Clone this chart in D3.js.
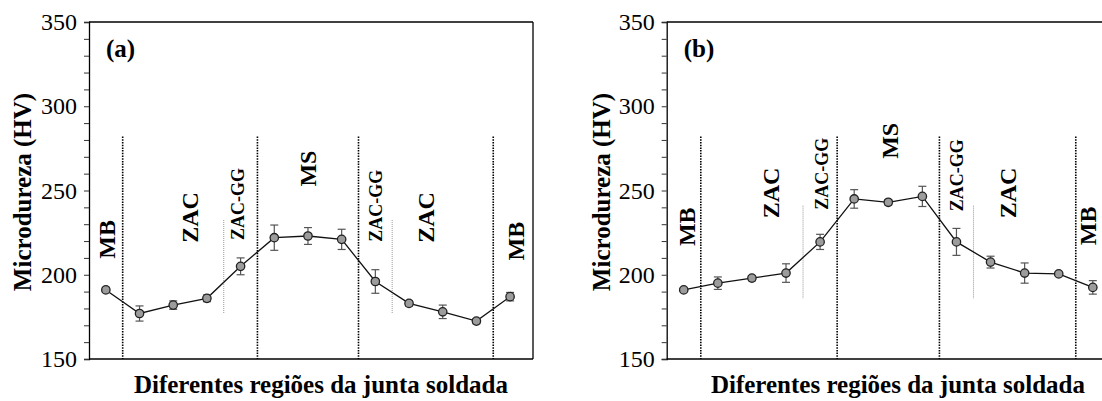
<!DOCTYPE html>
<html>
<head>
    <title>Microdureza</title>
    <script src="https://d3js.org/d3.v7.min.js"></script>
    <style>
        body { margin: 0; background: #fff; }
    </style>
</head>
<body>
    <div id="chart"></div>

    <script>
        // Posicoes de medida ao longo da junta (13 pontos)
        var positions = [1, 2, 3, 4, 5, 6, 7, 8, 9, 10, 11, 12, 13];

        // Painel (a)
        var hvA = [191, 177, 182, 186, 205, 222, 223, 221, 196, 183, 178, 172.5, 187];
        var errA = [1.5, 4.5, 2.5, 2, 5, 7.5, 5, 6, 7, 1.5, 4, 1.5, 2.5];

        // Painel (b)
        var hvB = [191, 195, 198, 201, 219.5, 245, 243, 246.5, 219.5, 207.5, 201, 200.5, 192.5];
        var errB = [1, 3.7, 1.5, 5.5, 4.5, 5.5, 1.5, 6, 8, 3.5, 6, 1, 4];

        var yTicks = [150, 200, 250, 300, 350];

        // limites das regioes
        var dividers = [1.5, 5.5, 8.5, 12.5];
        var subDividers = [4.5, 9.5];
        var dividerTop = 282;
        var subRangeA = [177, 232.5];
        var subRangeB = [186, 241];

        var zoneNames = ['MB', 'ZAC', 'ZAC-GG', 'MS', 'ZAC-GG', 'ZAC', 'MB'];
        var zoneXA = [1.03, 3.5, 4.92, 7.0, 9.02, 10.5, 13.18];
        var zoneYA = [221, 234, 242, 263, 241, 234, 220];
        var zoneXB = [1.1, 3.56, 5.06, 7.05, 9.02, 10.52, 12.86];
        var zoneYB = [228.5, 248.5, 260, 279.5, 259, 248.5, 229];

        var serif = '"Liberation Serif", "Times New Roman", Times, serif';

        var svg = d3.select('#chart')
            .append('svg')
            .attr('width', 1102)
            .attr('height', 401);

        function drawPanel(opts) {
            var x = d3.scaleLinear()
                .domain([0.5, 13.68])
                .range([opts.left, opts.right]);
            var y = d3.scaleLinear()
                .domain([150, 350])
                .range([359, 22]);

            var g = svg.append('g').style('font-family', serif);

            // frame
            g.append('line')
                .attr('x1', x.range()[0]).attr('x2', x.range()[1])
                .attr('y1', y(350)).attr('y2', y(350))
                .attr('stroke', '#000').attr('stroke-width', 1.3);
            g.append('line')
                .attr('x1', x.range()[0]).attr('x2', x.range()[1])
                .attr('y1', y(150)).attr('y2', y(150))
                .attr('stroke', '#000').attr('stroke-width', 1.3);
            g.append('line')
                .attr('x1', x.range()[1]).attr('x2', x.range()[1])
                .attr('y1', y(350)).attr('y2', y(150))
                .attr('stroke', '#000').attr('stroke-width', 1.3);

            // y axis
            var yAxis = d3.axisLeft(y)
                .tickValues(d3.range(150, 351, 10))
                .tickSize(5)
                .tickPadding(7)
                .tickFormat(function(d) { return yTicks.indexOf(d) >= 0 ? d : ''; });
            var ya = g.append('g')
                .attr('transform', 'translate(' + opts.left + ',0)')
                .call(yAxis)
                .attr('font-family', null)
                .attr('font-size', 24);
            ya.select('.domain').attr('stroke', '#000').attr('stroke-width', 1.3);
            ya.selectAll('.tick line').attr('stroke', '#333');
            ya.selectAll('.tick text')
                .attr('fill', '#000');

            // region dividers
            g.selectAll('.div')
                .data(dividers)
                .enter()
                .append('line')
                .attr('x1', function(d) { return x(d); })
                .attr('x2', function(d) { return x(d); })
                .attr('y1', y(dividerTop))
                .attr('y2', y(150))
                .attr('stroke', '#000')
                .attr('stroke-width', 1.6)
                .attr('stroke-dasharray', '1.5,1.2');

            g.selectAll('.subdiv')
                .data(subDividers)
                .enter()
                .append('line')
                .attr('x1', function(d) { return x(d); })
                .attr('x2', function(d) { return x(d); })
                .attr('y1', y(opts.subRange[1]))
                .attr('y2', y(opts.subRange[0]))
                .attr('stroke', '#999')
                .attr('stroke-width', 1)
                .attr('stroke-dasharray', '1,1');

            // zone labels
            g.selectAll('.zone')
                .data(zoneNames)
                .enter()
                .append('text')
                .attr('transform', function(d, i) {
                    return 'translate(' + x(opts.zoneX[i]) + ',' + y(opts.zoneY[i]) + ') rotate(-90)';
                })
                .attr('text-anchor', 'middle')
                .attr('dominant-baseline', 'central')
                .attr('font-weight', 'bold')
                .attr('font-size', function(d) { return d === 'ZAC-GG' ? 18 : 24; })
                .text(function(d) { return d; });

            // series line
            var line = d3.line()
                .x(function(d, i) { return x(positions[i]); })
                .y(function(d) { return y(d); });
            g.append('path')
                .datum(opts.values)
                .attr('fill', 'none')
                .attr('stroke', '#111')
                .attr('stroke-width', 1.3)
                .attr('d', line);

            // error bars
            var eb = g.selectAll('.err')
                .data(opts.values)
                .enter()
                .append('g')
                .attr('stroke', '#555')
                .attr('stroke-width', 1.2);
            eb.append('line')
                .attr('x1', function(d, i) { return x(positions[i]); })
                .attr('x2', function(d, i) { return x(positions[i]); })
                .attr('y1', function(d, i) { return y(d + opts.errors[i]); })
                .attr('y2', function(d, i) { return y(d - opts.errors[i]); });
            eb.append('line')
                .attr('x1', function(d, i) { return x(positions[i]) - 4; })
                .attr('x2', function(d, i) { return x(positions[i]) + 4; })
                .attr('y1', function(d, i) { return y(d + opts.errors[i]); })
                .attr('y2', function(d, i) { return y(d + opts.errors[i]); });
            eb.append('line')
                .attr('x1', function(d, i) { return x(positions[i]) - 4; })
                .attr('x2', function(d, i) { return x(positions[i]) + 4; })
                .attr('y1', function(d, i) { return y(d - opts.errors[i]); })
                .attr('y2', function(d, i) { return y(d - opts.errors[i]); });

            // markers
            g.selectAll('.pt')
                .data(opts.values)
                .enter()
                .append('circle')
                .attr('cx', function(d, i) { return x(positions[i]); })
                .attr('cy', function(d) { return y(d); })
                .attr('r', 4.2)
                .attr('fill', '#9c9c9c')
                .attr('stroke', '#222')
                .attr('stroke-width', 1.3);

            // panel letter
            g.append('text')
                .attr('x', opts.left + 17)
                .attr('y', 57)
                .attr('font-weight', 'bold')
                .attr('font-size', 25)
                .text(opts.letter);

            // axis titles
            g.append('text')
                .attr('transform', 'translate(' + opts.titleX + ',192) rotate(-90)')
                .attr('text-anchor', 'middle')
                .attr('dominant-baseline', 'central')
                .attr('font-weight', 'bold')
                .attr('font-size', 25)
                .text('Microdureza (HV)');

            g.append('text')
                .attr('x', opts.xTitleX)
                .attr('y', 393)
                .attr('text-anchor', 'middle')
                .attr('font-weight', 'bold')
                .attr('font-size', 25)
                .text('Diferentes regiões da junta soldada');
        }

        drawPanel({
            left: 89, right: 533,
            values: hvA, errors: errA,
            subRange: subRangeA,
            zoneX: zoneXA, zoneY: zoneYA,
            letter: '(a)', titleX: 22.5, xTitleX: 321
        });

        drawPanel({
            left: 666.7, right: 1116,
            values: hvB, errors: errB,
            subRange: subRangeB,
            zoneX: zoneXB, zoneY: zoneYB,
            letter: '(b)', titleX: 601, xTitleX: 898
        });
    </script>
</body>
</html>
